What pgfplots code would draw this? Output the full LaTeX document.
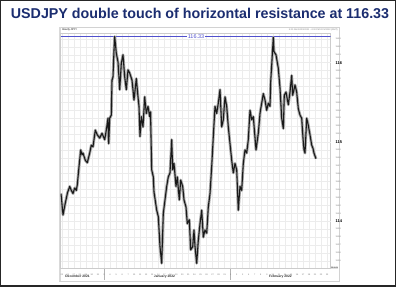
\documentclass[border=0pt]{standalone}
\usepackage{pgfplots}
\usepackage{pgfplotstable}
\pgfplotsset{compat=1.18}
\usepackage{fontspec}
\setmainfont{Liberation Sans}
\definecolor{titleblue}{RGB}{27,45,112}
\definecolor{resblue}{RGB}{80,80,205}
\pgfplotstableread{
x y
61 114.35
63 114.08
65.3 114.23
67.5 114.36
69.7 114.44
71.3 114.39
73 114.35
74.7 114.42
76.3 114.39
77.3 114.46
78.7 114.65
80.7 114.90
82 114.84
83 114.86
85.3 114.77
87.3 114.74
88.5 114.80
89.7 114.86
91.3 114.96
93 114.94
95.3 115.15
97.3 115.09
99.7 115.05
102 115.11
104.7 115.03
106.3 115.15
108 115.30
108.7 114.98
109.7 115.30
111.3 115.34
112 115.78
113 115.82
114 116.16
114.7 116.33
116.3 116.12
118 116.01
119.7 115.66
121.3 115.99
123 116.10
124.7 115.82
126.3 115.66
128 115.91
129.7 115.87
132 115.78
134 115.53
136.3 115.80
138 115.57
139 115.45
140 115.07
141.3 115.32
143 115.19
144.7 115.57
146.3 115.36
148 115.45
149.7 115.32
150.5 115.38
151.7 114.65
153.3 114.56
154 114.37
156.7 114.14
158.3 114.06
160 113.68
161.7 113.47
163.3 114.10
165 114.27
166.7 114.44
168.3 114.56
170 114.61
171.7 115.03
172.7 114.65
174 114.73
176 114.44
177.3 114.56
179.3 114.27
180.7 114.52
182.7 114.44
184 114.27
186 114.18
187.3 113.97
189.3 114.02
190.7 113.64
192.7 113.68
194 113.89
195 113.68
196.7 113.47
198.3 113.76
200 113.97
201.7 114.14
203.3 113.80
205 113.89
206.7 113.85
208.3 114.18
210 114.35
211.7 114.69
213.3 115.07
215 115.45
216.7 115.36
218.3 115.49
220 115.66
221.7 115.19
223.3 115.28
225 115.57
226.7 115.45
228.3 115.19
230 114.98
231.7 114.77
233.3 114.61
235 114.73
236.7 114.65
238.3 114.14
240 114.44
241.7 114.39
243.3 114.73
245 114.90
246.7 114.86
248.3 115.03
250 115.40
251.7 115.28
253.3 115.32
256 114.90
258.3 115.11
260 115.36
261.7 115.49
263.3 115.61
265 115.53
266.7 115.40
268.3 115.49
270 115.45
270.7 115.76
271.7 115.97
273.3 116.32
274 116.14
276 116.10
278.3 115.93
280 115.68
281.7 115.30
283.3 115.17
284.3 115.59
286 115.63
288.3 115.47
290 115.63
291.7 115.84
292.7 115.59
295 115.72
296.7 115.63
298.3 115.42
300 115.34
301.7 115.30
303 115.05
304 114.90
305 114.86
306.7 115.30
308.3 115.21
310 115.09
311.7 114.96
313 114.92
314 114.86
316 114.79
}\pricedata
\begin{document}
\begin{tikzpicture}
\begin{scope}[x=0.75pt,y=-0.75pt]
\useasboundingbox (0,0) rectangle (396,288);
\fill[white] (0,0) rectangle (396,288);
\draw[black!85, line width=1.1pt] (0.7,0.7) rectangle (395.3,286.2);
\node[anchor=base, text=titleblue, inner sep=0pt, font=\fontsize{10.7}{12}\selectfont\bfseries] at (200,18.5) {USDJPY double touch of horizontal resistance at 116.33};
\draw[gray!35, line width=0.6pt] (59.5,27) rectangle (339,281);
\draw[gray!30, line width=1.2pt] (60,27) -- (60,281);
\node[anchor=base west, inner sep=0pt, font=\fontsize{2}{2.4}\selectfont] at (62,31) {Hourly JPY=};
\node[anchor=base east, inner sep=0pt, text=gray, font=\fontsize{1.7}{2}\selectfont] at (338,31) {3:00 AM 12/23/2021 - 4:00 PM 2/21/2022 (GMT)};
\node[inner sep=0pt, text=black!80, font=\fontsize{2.5}{3}\selectfont\bfseries] at (77.5,276.8) {December 2021};
\node[inner sep=0pt, text=black!80, font=\fontsize{2.5}{3}\selectfont\bfseries] at (164.5,276.8) {January 2022};
\node[inner sep=0pt, text=black!80, font=\fontsize{2.5}{3}\selectfont\bfseries] at (280.5,276.8) {February 2022};
\draw[gray!60, line width=0.4pt] (104,268) -- (104,280);
\draw[gray!60, line width=0.4pt] (230.7,268) -- (230.7,280);
\node[fill=gray!25, inner sep=0.4pt, font=\fontsize{1.6}{2}\selectfont] at (334.5,268) {113.41};
\end{scope}
\begin{axis}[
  at={(45.375pt,-201pt)}, anchor=south west,
  scale only axis, width=202.5pt, height=176.25pt,
  xmin=60.5, xmax=330.5, ymin=113.411, ymax=116.375,
  axis line style={gray!40, line width=0.4pt},
  grid=major, major grid style={gray!15, line width=0.35pt},
  major tick length=0pt,
  xtick={61.8,67.8,73.9,79.9,85.9,91.9,98.0,104.0,110.0,116.1,122.1,128.1,134.2,140.2,146.2,152.2,158.3,164.3,170.3,176.4,182.4,188.4,194.4,200.5,206.5,212.5,218.6,224.6,230.7,236.7,242.7,248.8,254.8,260.8,266.9,272.9,278.9,285.0,291.0,297.0,303.0,309.1,315.1,321.1,327.2},
  xticklabels={23,24,27,28,29,30,31,3,4,5,6,7,10,11,12,13,14,17,18,19,20,21,24,25,26,27,28,31,1,2,3,4,7,8,9,10,11,14,15,16,17,18,21,22,23},
  xticklabel style={font=\fontsize{1.6}{2}\selectfont, text=gray!90!black, yshift=-1.3pt},
  ytick={113.5,113.6,113.7,113.8,113.9,114.1,114.2,114.3,114.4,114.5,114.6,114.7,114.8,114.9,115.1,115.2,115.3,115.4,115.5,115.6,115.7,115.8,115.9,116.1,116.2,116.3},
  yticklabels={113.5,113.6,113.7,113.8,113.9,114.1,114.2,114.3,114.4,114.5,114.6,114.7,114.8,114.9,115.1,115.2,115.3,115.4,115.5,115.6,115.7,115.8,115.9,116.1,116.2,116.3},
  yticklabel pos=right,
  yticklabel style={font=\fontsize{1.6}{2}\selectfont, text=gray!90!black, xshift=0.3pt},
  extra y ticks={114,115,116},
  extra y tick labels={114,115,116},
  extra y tick style={grid=major, yticklabel style={font=\fontsize{3}{3.5}\selectfont\bfseries, text=black}},
]
\addplot[resblue, line width=1.4pt, forget plot] coordinates {(60.5,116.33) (330.5,116.33)};
\node[fill=white, inner sep=0.6pt, text=resblue, font=\fontsize{4.1}{5}\selectfont] at (axis cs:196,116.33) {116.33};
\addplot[black!35, line width=2.1pt, line join=round] table[x=x,y=y] {\pricedata};
\addplot[black!90, line width=0.8pt, line join=round] table[x=x,y=y] {\pricedata};
\end{axis}
\end{tikzpicture}
\end{document}
